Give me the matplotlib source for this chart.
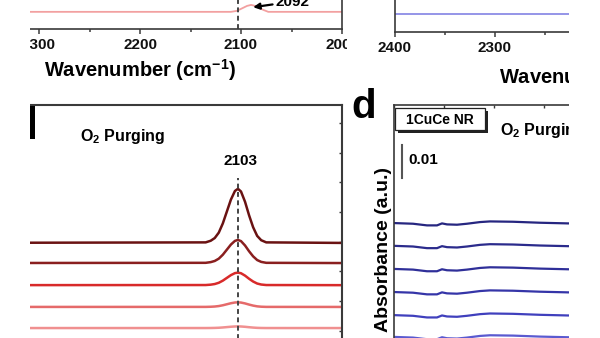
import matplotlib
matplotlib.use('Agg')
import matplotlib.pyplot as plt
from matplotlib.patches import Rectangle
import numpy as np

plt.rcParams['font.family'] = ['Liberation Sans', 'DejaVu Sans']
plt.rcParams['font.weight'] = 'bold'
plt.rcParams['mathtext.fontset'] = 'custom'
plt.rcParams['mathtext.rm'] = 'Liberation Sans:bold'
plt.rcParams['mathtext.bf'] = 'Liberation Sans:bold'
plt.rcParams['mathtext.it'] = 'Liberation Sans:bold'
plt.rcParams['mathtext.default'] = 'rm'

#===========================================================
# --- data (absorbance, a.u.) ------------------------------
#===========================================================

# top-left panel : one pink trace with a weak band at 2092
wn_a = [2400, 2110, 2104, 2098, 2094, 2090, 2086, 2082, 2078, 2073, 2000]
abs_a = [0.0052, 0.0052, 0.0055, 0.0064, 0.0070, 0.0073, 0.0070, 0.0064, 0.0058, 0.0052, 0.0052]

# top-right panel : flat blue trace
wn_b = [2400, 2000]
abs_b = [0.0055, 0.0055]

# panel c : 2103 band decaying under O2 purging
wn_c = [2400, 2135, 2130, 2126, 2122, 2118, 2114, 2110, 2106, 2103,
        2100, 2096, 2092, 2088, 2084, 2080, 2075, 2000]
band_c = [0, 0.01, 0.04, 0.09, 0.19, 0.36, 0.58, 0.80, 0.96, 1.0,
          0.95, 0.76, 0.51, 0.29, 0.13, 0.05, 0.01, 0]
offsets_c = [0.0476, 0.0415, 0.0348, 0.0282, 0.0218]
heights_c = [0.0164, 0.0070, 0.0038, 0.0014, 0.0005]
colors_c = ['#6a1212', '#8a1f1f', '#d82a2a', '#e56a6a', '#f09090']

# panel d : 1CuCe NR, small wiggles only
wn_d = [2400, 2381, 2367, 2357, 2352, 2347, 2337, 2327, 2314, 2304,
        2281, 2254, 2226, 2000]
shape_d = [0, -0.0002, -0.0007, -0.0007, -0.0001, -0.0004, -0.0005, -0.0002,
           0.0003, 0.0005, 0.0004, 0.0001, -0.0001, -0.0001]
offsets_d = [0.0521, 0.0452, 0.0382, 0.0312, 0.0242, 0.0176]
colors_d = ['#262680', '#2b2b8c', '#2f2f99', '#3535a8', '#4040bd', '#5a5ad0']

xticks = [2400, 2300, 2200, 2100, 2000]
minor_ticks = [2350, 2250, 2150, 2050]

#===========================================================
# --- layout helpers (pixel boxes on a 600x338 canvas) ------
#===========================================================

W, H = 600, 338
PX_PER_AU = 3300.0   # 0.01 a.u. ~ 33 px

def box(left, top, right, bottom):
    return [left / W, 1 - bottom / H, (right - left) / W, (bottom - top) / H]

def au(top, bottom):
    return (0, (bottom - top) / PX_PER_AU)

spine_col = '#3a3a3a'

fig = plt.figure(figsize=(6, 3.38), dpi=100)

def style(ax):
    for s in ax.spines.values():
        s.set_color(spine_col)
        s.set_linewidth(1.2)
    ax.set_xlim(2400, 2000)
    ax.set_xticks(xticks)
    ax.set_xticks(minor_ticks, minor=True)
    ax.set_yticks([])

# --- top-left panel
ax_a = fig.add_axes(box(-62, -100, 342, 29))
style(ax_a)
ax_a.set_ylim(*au(-100, 29))
ax_a.plot(wn_a, abs_a, color='#f2a0a0', lw=1.3)
ax_a.axvline(2103, color='#444444', lw=1.4, ls=(0, (2.5, 1.8)))
ax_a.spines['top'].set_visible(False)
ax_a.spines['left'].set_visible(False)
ax_a.tick_params(axis='x', which='major', direction='out', length=3.6, width=1.1,
                 pad=3, labelsize=11, colors=spine_col, labelcolor='#111111')
ax_a.tick_params(axis='x', which='minor', direction='out', length=2.4, width=1.1, colors=spine_col)
ax_a.set_xlabel('Wavenumber (cm$^{-1}$)', fontsize=14.5, fontweight='bold')
ax_a.xaxis.set_label_coords(0.5, -0.215)
ax_a.annotate('2092', xy=(2088, 0.0066), xytext=(2066, 0.0083),
              fontsize=11, fontweight='bold', ha='left', va='center',
              arrowprops=dict(arrowstyle='-|>', color='black', lw=1.6,
                              mutation_scale=9, shrinkA=0, shrinkB=0))

# --- top-right panel
ax_b = fig.add_axes(box(395, -100, 795, 32))
style(ax_b)
ax_b.set_ylim(*au(-100, 32))
ax_b.plot(wn_b, abs_b, color='#8c8ce6', lw=1.3)
ax_b.spines['top'].set_visible(False)
ax_b.spines['right'].set_visible(False)
ax_b.tick_params(axis='x', which='major', direction='out', length=3.6, width=1.1,
                 pad=3, labelsize=11, colors=spine_col, labelcolor='#111111')
ax_b.tick_params(axis='x', which='minor', direction='out', length=2.4, width=1.1, colors=spine_col)
ax_b.set_xlabel('Wavenumber (cm$^{-1}$)', fontsize=14.5, fontweight='bold')
ax_b.xaxis.set_label_coords(0.5, -0.245)

# --- panel c
ax_c = fig.add_axes(box(-62, 105, 342, 400))
style(ax_c)
ax_c.set_ylim(*au(105, 400))
for off, h, col in zip(offsets_c, heights_c, colors_c):
    ax_c.plot(wn_c, off + h * np.array(band_c), color=col, lw=1.8,
              solid_joinstyle='round')
ax_c.plot([2103, 2103], [0, (400 - 178) / PX_PER_AU], color='#444444', lw=1.4,
          ls=(0, (2.5, 1.8)))
ax_c.tick_params(axis='x', which='both', bottom=False, labelbottom=False)
ax_c.set_yticks(np.arange(0.003, 0.09, 0.009), minor=True)
ax_c.tick_params(axis='y', which='minor', left=False, right=True, direction='in',
                 length=2.0, width=1.0, colors=spine_col)
ax_c.spines['top'].set_linewidth(1.5)
ax_c.spines['right'].set_linewidth(1.5)
fig.text(80 / W, 1 - 136 / H, 'O$_2$ Purging', fontsize=11.5, fontweight='bold',
         ha='left', va='center')
fig.text(240 / W, 1 - 161 / H, '2103', fontsize=11, fontweight='bold',
         ha='center', va='center')

# --- panel d
ax_d = fig.add_axes(box(394, 105, 794, 395))
style(ax_d)
ax_d.set_ylim(*au(105, 395))
for off, col in zip(offsets_d, colors_d):
    ax_d.plot(wn_d, off + np.array(shape_d), color=col, lw=1.6)
ax_d.tick_params(axis='x', which='both', bottom=False, labelbottom=False,
                 top=True, direction='in', length=2.5, width=1.0, colors=spine_col)
ax_d.plot([2392, 2392], [0.0658, 0.0758], color='#555555', lw=1.5)
ax_d.text(2386, 0.0713, '0.01', fontsize=11, fontweight='bold', ha='left', va='center')
ax_d.set_ylabel('Absorbance (a.u.)', fontsize=14, fontweight='bold')
ax_d.yaxis.set_label_coords(-0.004, 0.5)

fig.text(500 / W, 1 - 130 / H, 'O$_2$ Purging', fontsize=11.5, fontweight='bold',
         ha='left', va='center')

# sample box with drop shadow
fig.add_artist(Rectangle((398 / W, 1 - 133 / H), 90 / W, 22 / H,
                         transform=fig.transFigure, facecolor='#222222',
                         edgecolor='none', zorder=4))
fig.add_artist(Rectangle((395 / W, 1 - 130 / H), 90 / W, 22 / H,
                         transform=fig.transFigure, facecolor='white',
                         edgecolor='#222222', lw=0.9, zorder=5))
fig.text(440 / W, 1 - 119.5 / H, '1CuCe NR', fontsize=10, fontweight='bold',
         ha='center', va='center', zorder=6)

# panel letter d
fig.text(364 / W, 1 - 107 / H, 'd', fontsize=29, fontweight='bold',
         ha='center', va='center')

# --- cropped edges of the source figure
for x0, y0, x1, y1 in [(0, 0, 30, 338), (569, 0, 600, 338), (347, 0, 373, 62)]:
    fig.add_artist(Rectangle((x0 / W, 1 - y1 / H), (x1 - x0) / W, (y1 - y0) / H,
                             transform=fig.transFigure, facecolor='white',
                             edgecolor='none', zorder=10))
# remnant of a panel letter at the left border
fig.add_artist(Rectangle((30 / W, 1 - 139 / H), 4.5 / W, 33 / H,
                         transform=fig.transFigure, facecolor='black',
                         edgecolor='none', zorder=11))

fig.savefig('out.png', dpi=100, facecolor='white')
